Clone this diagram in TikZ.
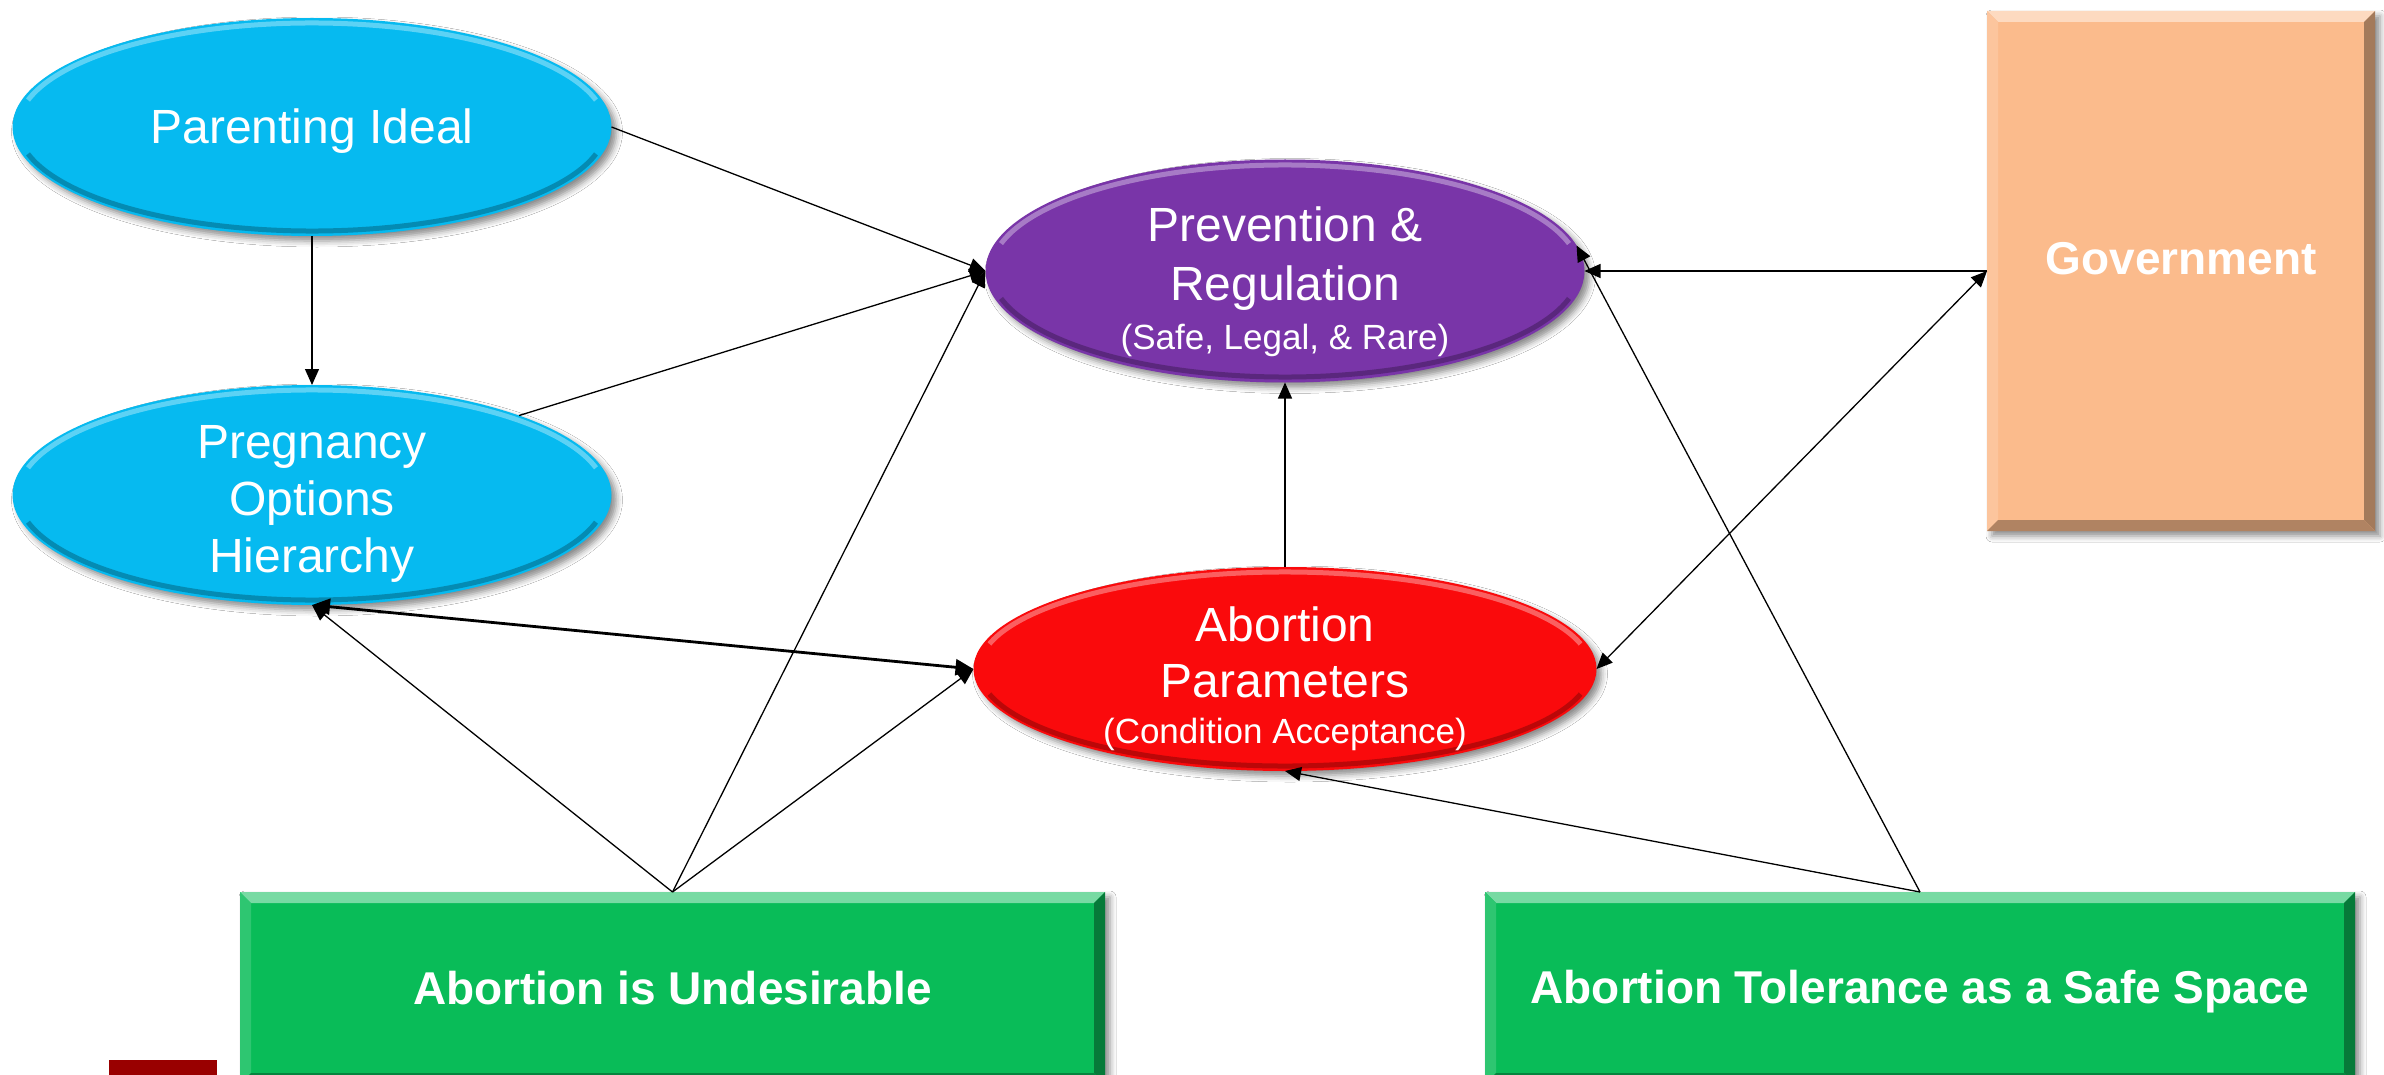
\documentclass[tikz,border=0pt]{standalone}
\usepackage{fontspec}
\setmainfont{Liberation Sans}
\usetikzlibrary{shapes.geometric,shadows.blur,arrows.meta,calc}
\definecolor{cblue}{RGB}{6,186,240}
\definecolor{cpurple}{RGB}{121,53,168}
\definecolor{cred}{RGB}{250,10,12}
\definecolor{corange}{RGB}{251,187,140}
\definecolor{cgreen}{RGB}{9,188,88}
\definecolor{cdarkred}{RGB}{153,0,0}
\newcommand\bevelrect[2]{%
  \fill[#2!55!white] (#1.north west) -- (#1.north east) -- ($(#1.north east)+(-11,11)$) -- ($(#1.north west)+(11,11)$) -- cycle;
  \fill[#2!85!white] (#1.north west) -- ($(#1.north west)+(11,11)$) -- ($(#1.south west)+(11,-11)$) -- (#1.south west) -- cycle;
  \fill[#2!65!black] (#1.north east) -- ($(#1.north east)+(-11,11)$) -- ($(#1.south east)+(-11,-11)$) -- (#1.south east) -- cycle;
  \fill[#2!70!black] (#1.south west) -- ($(#1.south west)+(11,-11)$) -- ($(#1.south east)+(-11,-11)$) -- (#1.south east) -- cycle;
}
\newcommand\bevelell[3]{% name, rx, ry
  \draw[white,opacity=.35,line width=5pt] ($(#1.center)+(195:#2 and #3)$) arc[start angle=195,end angle=345,x radius=#2,y radius=#3];
  \draw[black,opacity=.25,line width=5pt] ($(#1.center)+(15:#2 and #3)$) arc[start angle=15,end angle=165,x radius=#2,y radius=#3];
}
\begin{document}
\begin{tikzpicture}[x=1pt,y=-1pt,
  ellbase/.style={ellipse, inner sep=0pt, outer sep=0pt,
    blur shadow={shadow xshift=5pt, shadow yshift=-5pt, shadow blur radius=6pt, shadow opacity=45}},
  boxbase/.style={rectangle, inner sep=0pt, outer sep=0pt, text=white,
    font=\bfseries\fontsize{46}{55}\selectfont,
    blur shadow={shadow xshift=5pt, shadow yshift=-5pt, shadow blur radius=6pt, shadow opacity=45}},
  txt/.style={text=white, align=center, inner sep=0pt, font=\fontsize{48}{57}\selectfont},
  conn/.style={-{Triangle[length=16pt,width=14pt]}, line width=1.3pt},
  dbl/.style={{Triangle[length=16pt,width=14pt]}-{Triangle[length=16pt,width=14pt]}, line width=1.3pt},
  thickdbl/.style={{Triangle[length=18pt,width=16pt]}-{Triangle[length=18pt,width=16pt]}, line width=2.8pt}]
\useasboundingbox (0,0) rectangle (2384,1075);
\fill[white] (0,0) rectangle (2384,1075);

% ellipses
\node[ellbase, fill=cblue, minimum width=599pt, minimum height=218pt] (par) at (312,127) {};
\node[ellbase, fill=cblue, minimum width=599pt, minimum height=220pt] (preg) at (312,495) {};
\node[ellbase, fill=cpurple, minimum width=599pt, minimum height=223pt] (prev) at (1285,271) {};
\node[ellbase, fill=cred, minimum width=623pt, minimum height=204pt] (ap) at (1285,669) {};
\bevelell{par}{294}{104}
\bevelell{preg}{294}{105}
\bevelell{prev}{294}{106}
\bevelell{ap}{306}{97}

% ellipse texts
\node[txt] (part) at (312,131) {Parenting Ideal};
\node[txt] (pregt) at (312,504) {Pregnancy\\Options\\Hierarchy};
\node[txt, font=\fontsize{48}{59}\selectfont] (prevt) at (1285,282) {Prevention \&\\Regulation\\[-10pt]{\fontsize{35}{47}\selectfont(Safe, Legal, \& Rare)}};
\node[txt, font=\fontsize{48}{56}\selectfont] (apt) at (1285,679) {Abortion\\Parameters\\[-10pt]{\fontsize{35}{47}\selectfont(Condition Acceptance)}};

% boxes
\node[boxbase, fill=corange, minimum width=388pt, minimum height=520pt] (gov) at (2181,271) {};
\bevelrect{gov}{corange}
\node[txt, font=\bfseries\fontsize{46}{55}\selectfont] (govt) at (2181,259) {Government};

\node[boxbase, fill=cgreen, minimum width=865pt, minimum height=192pt] (und) at (672.5,988) {};
\bevelrect{und}{cgreen}
\node[txt, font=\bfseries\fontsize{46}{55}\selectfont] (undt) at (672.5,988) {Abortion is Undesirable};

\node[boxbase, fill=cgreen, minimum width=870pt, minimum height=192pt] (tol) at (1920,988) {};
\bevelrect{tol}{cgreen}
\node[txt, font=\bfseries\fontsize{46}{55}\selectfont] (tolt) at (1920,992) {Abortion Tolerance as a Safe Space};

\node[fill=cdarkred, inner sep=0pt, minimum width=108pt, minimum height=30pt] (mark) at (163,1075) {};

% connectors
\draw[conn] (par.south) -- (preg.north);
\draw[conn] (par.east) -- (prev.west);
\draw[conn] (preg.21) -- (prev.west);
\draw[conn] (und.north) -- (prev.west);
\draw[conn] (und.north) -- (preg.south);
\draw[conn] (und.north) -- (ap.west);
\draw[thickdbl] (ap.west) -- (preg.south);
\draw[conn] (ap.north) -- (prev.south);
\draw[conn] (gov.west) -- (prev.east);
\draw[dbl] (gov.west) -- (ap.east);
\draw[conn] (tol.north) -- (prev.5);
\draw[conn] (tol.north) -- (ap.south);
\end{tikzpicture}
\end{document}
